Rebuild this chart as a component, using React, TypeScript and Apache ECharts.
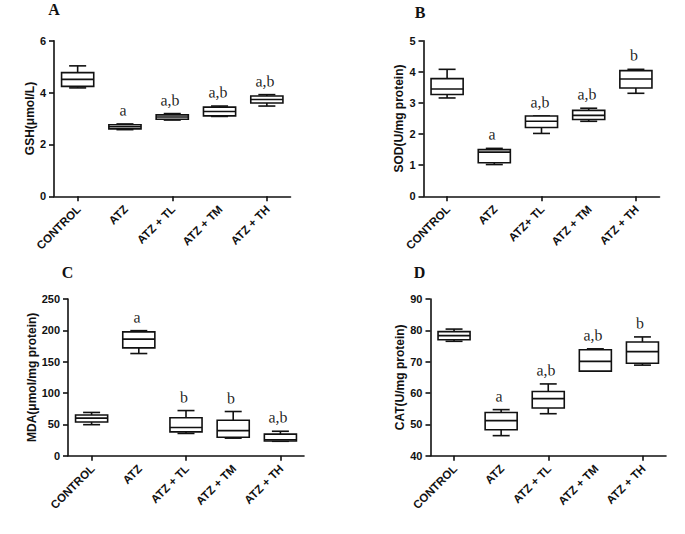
import { useEffect, useRef } from 'react';
import * as echarts from 'echarts';

// Group labels on the category axes
const CATEGORIES = ['CONTROL', 'ATZ', 'ATZ + TL', 'ATZ + TM', 'ATZ + TH'];
const CATEGORIES_SOD = ['CONTROL', 'ATZ', 'ATZ+ TL', 'ATZ + TM', 'ATZ + TH'];

// Box summaries per group: [min, Q1, median, Q3, max]
const GSH = [
  [4.18, 4.24, 4.51, 4.77, 5.03],
  [2.57, 2.6, 2.68, 2.76, 2.79],
  [2.94, 2.97, 3.06, 3.14, 3.19],
  [3.08, 3.1, 3.27, 3.44, 3.48],
  [3.48, 3.6, 3.73, 3.87, 3.92],
];
const SOD = [
  [3.16, 3.27, 3.45, 3.78, 4.08],
  [1.02, 1.08, 1.42, 1.5, 1.54],
  [2.02, 2.21, 2.41, 2.58, 2.58],
  [2.41, 2.47, 2.6, 2.76, 2.83],
  [3.31, 3.48, 3.77, 4.04, 4.08],
];
const MDA = [
  [49.5, 53.7, 60, 65, 69],
  [163, 172, 186, 197.5, 199.5],
  [35.5, 38, 45, 60.5, 72],
  [28, 29.5, 40, 56.5, 70.5],
  [23, 23.5, 25.5, 34.5, 39],
];
const CAT = [
  [76.5, 77, 78.3, 79.6, 80.4],
  [46.4, 48.3, 51.2, 53.8, 54.7],
  [53.4, 55.2, 58.2, 60.5, 62.9],
  [67, 67, 70.1, 73.8, 74.1],
  [68.9, 69.5, 73.2, 76.3, 77.9],
];

// Significance letters above each group
const GSH_LETTERS = ['', 'a', 'a,b', 'a,b', 'a,b'];
const SOD_LETTERS = ['', 'a', 'a,b', 'a,b', 'b'];
const MDA_LETTERS = ['', 'a', 'b', 'b', 'a,b'];
const CAT_LETTERS = ['', 'a', 'a,b', 'a,b', 'b'];

// Value-axis ranges: [min, max, step]
const GSH_AXIS = [0, 6, 2];
const SOD_AXIS = [0, 5, 1];
const MDA_AXIS = [0, 250, 50];
const CAT_AXIS = [40, 90, 10];

const Y_TITLES = ['GSH(μmol/L)', 'SOD(U/mg protein)', 'MDA(μmol/mg protein)', 'CAT(U/mg protein)'];
const PANEL_TAGS = ['A', 'B', 'C', 'D'];

const INK = '#111';
const SANS = '"Liberation Sans", Arial, sans-serif';
const SERIF = '"Liberation Serif", "Times New Roman", serif';

const renderBox = (_params: any, api: any) => {
  const i = api.value(0);
  const lo = api.coord([i, api.value(1)]);
  const q1 = api.coord([i, api.value(2)]);
  const med = api.coord([i, api.value(3)]);
  const q3 = api.coord([i, api.value(4)]);
  const hi = api.coord([i, api.value(5)]);
  const band = api.size([1, 0])[0];
  const bw = band * 0.68;
  const cw = band * 0.36;
  const cx = lo[0];
  const line = { stroke: INK, lineWidth: 1.6, fill: 'none' };
  return {
    type: 'group',
    children: [
      { type: 'line', shape: { x1: cx, y1: hi[1], x2: cx, y2: q3[1] }, style: line },
      { type: 'line', shape: { x1: cx, y1: q1[1], x2: cx, y2: lo[1] }, style: line },
      { type: 'line', shape: { x1: cx - cw / 2, y1: hi[1], x2: cx + cw / 2, y2: hi[1] }, style: line },
      { type: 'line', shape: { x1: cx - cw / 2, y1: lo[1], x2: cx + cw / 2, y2: lo[1] }, style: line },
      {
        type: 'rect',
        shape: { x: cx - bw / 2, y: q3[1], width: bw, height: q1[1] - q3[1] },
        style: { fill: '#fff', stroke: INK, lineWidth: 1.6 },
      },
      { type: 'line', shape: { x1: cx - bw / 2, y1: med[1], x2: cx + bw / 2, y2: med[1] }, style: line },
    ],
  };
};

// Letter drawn a fixed distance above the upper whisker of its group
const makeLetterRenderer = (letters: string[]) => (params: any, api: any) => {
  const p = api.coord([api.value(0), api.value(1)]);
  return {
    type: 'text',
    x: Math.round(p[0] - 2),
    y: Math.round(p[1] - 6),
    rotation: 0.01,
    style: {
      text: letters[params.dataIndex],
      fill: '#222',
      opacity: 0.99,
      fontSize: 16,
      fontFamily: SERIF,
      textAlign: 'center',
      textVerticalAlign: 'bottom',
    },
  };
};

// Category names set at 45 degrees below each tick
const makeCategoryRenderer = (cats: string[]) => (params: any, api: any) => {
  const p = api.coord([api.value(0), api.value(1)]);
  return {
    type: 'text',
    x: p[0] + 1,
    y: p[1] + 11,
    rotation: Math.PI / 4,
    style: {
      text: cats[params.dataIndex],
      fill: INK,
      fontSize: 11.5,
      fontWeight: 'bold',
      fontFamily: SANS,
      textAlign: 'right',
      textVerticalAlign: 'middle',
    },
  };
};

export default function App() {
  const ref = useRef<HTMLDivElement>(null);

  useEffect(() => {
    if (!ref.current) return;
    const chart = echarts.init(ref.current, null, { renderer: 'svg' });

    const panels = [
      { cats: CATEGORIES, data: GSH, letters: GSH_LETTERS, axis: GSH_AXIS, grid: { left: 54, top: 40.7, width: 236.5, height: 155.6 }, gap: 16, tag: [54, 9] },
      { cats: CATEGORIES_SOD, data: SOD, letters: SOD_LETTERS, axis: SOD_AXIS, grid: { left: 423.5, top: 40.7, width: 236, height: 155.6 }, gap: 16, tag: [420, 12.5] },
      { cats: CATEGORIES, data: MDA, letters: MDA_LETTERS, axis: MDA_AXIS, grid: { left: 68, top: 299, width: 236, height: 156.7 }, gap: 25, tag: [67.5, 272.5] },
      { cats: CATEGORIES, data: CAT, letters: CAT_LETTERS, axis: CAT_AXIS, grid: { left: 430.5, top: 299, width: 235.5, height: 156.7 }, gap: 24, tag: [419.5, 272.5] },
    ];

    const axisLine = { show: true, lineStyle: { color: INK, width: 1.6 } };
    const axisTick = { show: true, length: 5, lineStyle: { color: INK, width: 1.6 } };

    chart.setOption({
      animation: false,
      backgroundColor: '#fff',
      grid: panels.map((p) => ({ ...p.grid, containLabel: false })),
      xAxis: panels.map((p, k) => ({
        type: 'category',
        gridIndex: k,
        data: p.cats,
        boundaryGap: true,
        axisLine,
        axisTick: { ...axisTick, alignWithLabel: true },
        axisLabel: { show: false },
        splitLine: { show: false },
      })),
      yAxis: panels.map((p, k) => ({
        type: 'value',
        gridIndex: k,
        min: p.axis[0],
        max: p.axis[1],
        interval: p.axis[2],
        name: Y_TITLES[k],
        nameLocation: 'middle',
        nameGap: p.gap,
        nameTextStyle: { color: INK, fontSize: 12, fontWeight: 'bold', fontFamily: SANS },
        axisLine,
        axisTick,
        axisLabel: { margin: 8, color: INK, fontSize: 11, fontWeight: 'bold', fontFamily: SANS },
        splitLine: { show: false },
      })),
      series: panels.flatMap((p, k) => [
        {
          type: 'custom',
          xAxisIndex: k,
          yAxisIndex: k,
          renderItem: renderBox,
          encode: { x: 0, y: [1, 2, 3, 4, 5] },
          data: p.data.map((d, i) => [i, ...d]),
          silent: true,
        },
        {
          type: 'custom',
          xAxisIndex: k,
          yAxisIndex: k,
          renderItem: makeLetterRenderer(p.letters),
          encode: { x: 0, y: 1 },
          data: p.data.map((d, i) => [i, d[4]]),
          silent: true,
        },
        {
          type: 'custom',
          xAxisIndex: k,
          yAxisIndex: k,
          clip: false,
          renderItem: makeCategoryRenderer(p.cats),
          encode: { x: 0, y: 1 },
          data: p.cats.map((_c, i) => [i, p.axis[0]]),
          silent: true,
        },
      ]),
      graphic: panels.map((p, k) => ({
        type: 'text',
        x: p.tag[0],
        y: p.tag[1],
        style: {
          text: PANEL_TAGS[k],
          fill: INK,
          font: `bold 16px ${SERIF}`,
          textAlign: 'center',
          textVerticalAlign: 'middle',
        },
      })),
    });

    return () => chart.dispose();
  }, []);

  return (
    <div
      ref={ref}
      style={{ position: 'fixed', left: 0, top: 0, width: 685, height: 534, background: '#fff' }}
    />
  );
}
